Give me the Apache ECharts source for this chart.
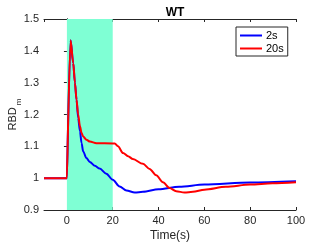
<!DOCTYPE html>
<html><head><meta charset="utf-8">
<script src="https://cdn.jsdelivr.net/npm/echarts@6/dist/echarts.min.js"></script>
<style>html,body{margin:0;padding:0;background:#fff}#c{width:327px;height:245px}</style>
</head><body><div id="c"></div>
<script>
var time2s = [-10, 0, 0.3, 1.6, 2.75, 3.5, 4.2, 4.9, 5.7, 6.4, 7.1, 8.5, 10, 12.2, 14.3, 17.2, 20, 23, 26, 29.6, 33.2, 40, 49, 60, 80, 100];
var rbd2s  = [1, 1, 1.0, 1.433, 1.362, 1.30, 1.246, 1.19, 1.147, 1.11, 1.084, 1.063, 1.051, 1.039, 1.030, 1.014, 0.995, 0.974, 0.961, 0.955, 0.957, 0.965, 0.973, 0.980, 0.986, 0.990];
var time20s = [-10, 0, 0.3, 1.6, 2.75, 3.5, 4.2, 4.9, 5.7, 6.4, 7.1, 8.5, 10, 12.9, 20, 20.9, 22.3, 24.5, 26.7, 28.8, 33.2, 36.1, 39, 41.9, 44.8, 47.7, 51.3, 55, 60, 69.4, 80, 89.7, 100];
var rbd20s  = [1, 1, 1.0, 1.433, 1.362, 1.30, 1.246, 1.20, 1.163, 1.142, 1.131, 1.121, 1.115, 1.110, 1.109, 1.109, 1.100, 1.079, 1.069, 1.060, 1.045, 1.029, 1.009, 0.987, 0.969, 0.959, 0.955, 0.957, 0.964, 0.973, 0.980, 0.984, 0.987];
var seriesNames = ['2s', '20s'];
var stimWindow = [0, 20];
var titleText = 'WT';

function pairs(t, v){ return t.map(function(x,i){ return [x, v[i]]; }); }
var axisColor = '#262626';
var font = 'Liberation Sans, Arial, Helvetica, sans-serif';
var chart = echarts.init(document.getElementById('c'), null, {renderer:'canvas'});
chart.setOption({
  animation: false,
  backgroundColor: '#fff',
  title: { text: titleText, left: 170, top: 2, textAlign: 'center',
    textStyle: { fontFamily: font, fontSize: 12, fontWeight: 'bold', color: '#000' } },
  grid: { left: 44, right: 31, top: 19, bottom: 35, outerBoundsMode: 'none', containLabel: false },
  legend: {
    orient: 'vertical', left: 236, top: 27, padding: [3, 4, 2, 4], itemGap: 2,
    itemWidth: 22, itemHeight: 2, icon: 'rect',
    borderColor: axisColor, borderWidth: 1, backgroundColor: '#fff',
    textStyle: { fontFamily: font, fontSize: 11, color: '#000', padding: [0,0,0,-1] },
    data: seriesNames
  },
  xAxis: [{
    type: 'value', min: -10, max: 100, splitNumber: 5, position: 'bottom',
    name: 'Time(s)', nameLocation: 'middle', nameGap: 20, nameMoveOverlap: false,
    nameTextStyle: { fontFamily: font, fontSize: 12, color: axisColor },
    axisLine: { lineStyle: { color: axisColor, width: 1 } },
    axisTick: { inside: true, length: 3, lineStyle: { color: axisColor } },
    axisLabel: { showMinLabel: false, fontFamily: font, fontSize: 11, color: axisColor, margin: 5 },
    splitLine: { show: false }
  }, {
    type: 'value', min: -10, max: 100, splitNumber: 5, position: 'top',
    axisLine: { lineStyle: { color: axisColor, width: 1 } },
    axisTick: { inside: true, length: 3, lineStyle: { color: axisColor } },
    axisLabel: { show: false }, splitLine: { show: false }
  }],
  yAxis: [{
    type: 'value', min: 0.9, max: 1.5, interval: 0.1, position: 'left',
    name: '{a|RBD}{b|m}', nameLocation: 'middle', nameGap: 26, nameRotate: 90, nameMoveOverlap: false,
    nameTextStyle: { fontFamily: font, fontSize: 11, color: axisColor,
      rich: { a: { fontFamily: font, fontSize: 11, lineHeight: 11, verticalAlign: 'top', color: axisColor },
              b: { fontFamily: font, fontSize: 8, lineHeight: 8, verticalAlign: 'top', padding: [8,0,0,2], color: axisColor } } },
    axisLine: { show: true, lineStyle: { color: axisColor, width: 1 } },
    axisTick: { show: true, inside: true, length: 3, lineStyle: { color: axisColor } },
    axisLabel: { fontFamily: font, fontSize: 11, color: axisColor, margin: 5,
      formatter: function(v){ return String(Math.round(v*10)/10); } },
    splitLine: { show: false }
  }, {
    type: 'value', min: 0.9, max: 1.5, interval: 0.1, position: 'right',
    axisLine: { show: true, lineStyle: { color: axisColor, width: 1 } },
    axisTick: { show: true, inside: true, length: 3, lineStyle: { color: axisColor } },
    axisLabel: { show: false }, splitLine: { show: false }
  }],
  series: [{
    name: seriesNames[0], type: 'line', data: pairs(time2s, rbd2s),
    showSymbol: false, smooth: 0.3, smoothMonotone: 'x',
    lineStyle: { color: '#0000ff', width: 2 }, itemStyle: { color: '#0000ff' },
    z: 3,
    markArea: { silent: true, itemStyle: { color: '#7fffd4' },
      data: [[{ xAxis: stimWindow[0] }, { xAxis: stimWindow[1] }]] }
  }, {
    name: seriesNames[1], type: 'line', data: pairs(time20s, rbd20s),
    showSymbol: false, smooth: 0.3, smoothMonotone: 'x',
    lineStyle: { color: '#ff0000', width: 2 }, itemStyle: { color: '#ff0000' },
    z: 4
  }]
});
</script></body></html>
